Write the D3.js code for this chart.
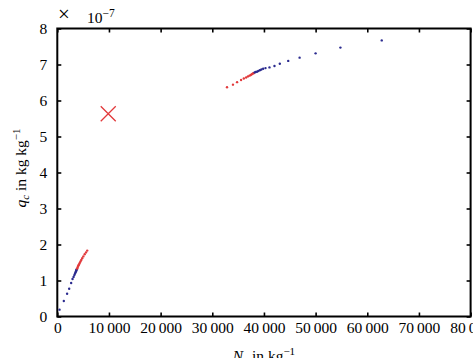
<!DOCTYPE html>
<html>
<head>
<meta charset="utf-8">
<script src="https://cdn.jsdelivr.net/npm/d3@7"></script>
<style>
  body { margin: 0; background: #fff; }
  svg { display: block; }
</style>
</head>
<body>
<div id="chart"></div>
<script>
(function () {

  // x values in kg^-1, y values in 1e-7 kg/kg
  const lowBlueN = [430, 1260, 1900, 2300, 2680, 2950, 3150, 3300, 3420, 3520, 3600, 3670, 3730, 3780];
  const lowBlueQ = [0.19, 0.43, 0.63, 0.77, 0.93, 1.04, 1.10, 1.15, 1.19, 1.22, 1.25, 1.27, 1.30, 1.31];
  const lowRedN = [3830, 3900, 3980, 4060, 4150, 4250, 4360, 4490, 4640, 4820, 5040, 5300, 5560, 5790];
  const lowRedQ = [1.33, 1.35, 1.38, 1.41, 1.43, 1.46, 1.49, 1.53, 1.57, 1.62, 1.67, 1.73, 1.78, 1.83];
  const highRedN = [32850, 34000, 34800, 35570, 36100, 36550, 36900, 37200, 37450, 37650, 37850, 38020];
  const highRedQ = [6.37, 6.44, 6.51, 6.57, 6.61, 6.64, 6.67, 6.69, 6.71, 6.73, 6.75, 6.76];
  const highBlueN = [38200, 38400, 38650, 38900, 39200, 39500, 39850, 40300, 41070, 42040, 43070, 44700, 46900, 50000, 54800, 62800];
  const highBlueQ = [6.78, 6.79, 6.80, 6.82, 6.84, 6.86, 6.88, 6.90, 6.92, 6.96, 7.02, 7.10, 7.19, 7.31, 7.47, 7.67];
  const crossN = 9860, crossQ = 5.63;

  const xTicks = [0, 10000, 20000, 30000, 40000, 50000, 60000, 70000, 80000];
  const yTicks = [0, 1, 2, 3, 4, 5, 6, 7, 8];

  const width = 473, height = 358;
  const blue = '#2b2b8f', red = '#e23a3c';
  const font = 'Liberation Serif';

  const x = d3.scaleLinear().domain([0, 80000]).range([57.3, 470.6]);
  const y = d3.scaleLinear().domain([0, 8]).range([316.5, 28.5]);

  const svg = d3.select('#chart').append('svg')
    .attr('width', width)
    .attr('height', height)
    .attr('font-family', font);

  const fmt = d => d === 0 ? '0' : d3.format(',')(d).replace(',', '\u2009');

  // axes with inward ticks
  const xAxis = svg.append('g')
    .attr('transform', `translate(0, ${y(0)})`)
    .call(d3.axisBottom(x).tickValues(xTicks).tickFormat(fmt).tickSize(-4).tickPadding(5.5));
  const xTop = svg.append('g')
    .attr('transform', `translate(0, ${y(8)})`)
    .call(d3.axisTop(x).tickValues(xTicks).tickFormat('').tickSize(-4));
  const yAxis = svg.append('g')
    .attr('transform', `translate(${x(0)}, 0)`)
    .call(d3.axisLeft(y).tickValues(yTicks).tickSize(-4).tickPadding(10));
  const yRight = svg.append('g')
    .attr('transform', `translate(${x(80000)}, 0)`)
    .call(d3.axisRight(y).tickValues(yTicks).tickFormat('').tickSize(-4));

  [xAxis, xTop, yAxis, yRight].forEach(g => {
    g.attr('font-family', font).attr('font-size', 15.5);
    g.select('.domain').remove();
    g.selectAll('line').attr('stroke', '#000').attr('stroke-width', 1.6);
    g.selectAll('text').attr('font-family', font).attr('fill', '#000');
  });

  svg.append('rect')
    .attr('x', x(0)).attr('y', y(8))
    .attr('width', x(80000) - x(0)).attr('height', y(0) - y(8))
    .attr('fill', 'none').attr('stroke', '#000').attr('stroke-width', 2);

  const dots = (ns, qs, color) => {
    svg.append('g').selectAll('circle')
      .data(ns.map((n, i) => [n, qs[i]]))
      .enter().append('circle')
      .attr('cx', d => x(d[0]))
      .attr('cy', d => y(d[1]))
      .attr('r', 1.2)
      .attr('fill', color);
  };
  dots(lowBlueN, lowBlueQ, blue);
  dots(lowRedN, lowRedQ, red);
  dots(highRedN, highRedQ, red);
  dots(highBlueN, highBlueQ, blue);

  // cross marker
  const cs = 7.5;
  svg.append('path')
    .attr('d', `M${x(crossN) - cs},${y(crossQ) - cs}L${x(crossN) + cs},${y(crossQ) + cs}` +
      `M${x(crossN) - cs},${y(crossQ) + cs}L${x(crossN) + cs},${y(crossQ) - cs}`)
    .attr('stroke', red).attr('stroke-width', 1.3).attr('fill', 'none');

  // multiplier
  svg.append('text').attr('x', 58).attr('y', 21).attr('font-size', 21).text('\u00d7');
  const mult = svg.append('text').attr('x', 87).attr('y', 23).attr('font-size', 15.5);
  mult.append('tspan').text('10');
  mult.append('tspan').attr('dy', -6).attr('font-size', 11.5).text('\u22127');

  // x label
  const xl = svg.append('text')
    .attr('x', 264).attr('y', 361)
    .attr('text-anchor', 'middle')
    .attr('font-size', 15.5);
  xl.append('tspan').attr('font-style', 'italic').text('N');
  xl.append('tspan').attr('dy', 3).attr('font-size', 11).attr('font-style', 'italic').text('c');
  xl.append('tspan').attr('dy', -3).text(' in kg');
  xl.append('tspan').attr('dy', -6).attr('font-size', 11).text('\u22121');

  // y label
  const yl = svg.append('text')
    .attr('transform', 'translate(26, 168) rotate(-90)')
    .attr('text-anchor', 'middle')
    .attr('font-size', 15.5);
  yl.append('tspan').attr('font-style', 'italic').text('q');
  yl.append('tspan').attr('dy', 3).attr('font-size', 11).attr('font-style', 'italic').text('c');
  yl.append('tspan').attr('dy', -3).text(' in kg kg');
  yl.append('tspan').attr('dy', -6).attr('font-size', 11).text('\u22121');

})();
</script>
</body>
</html>
